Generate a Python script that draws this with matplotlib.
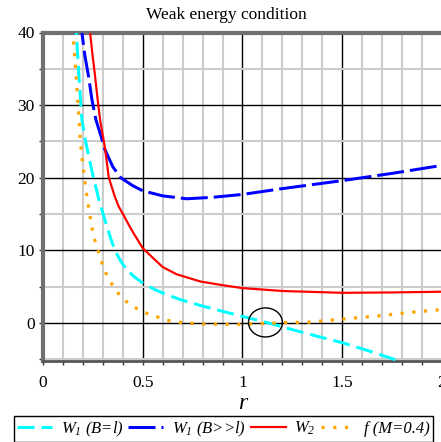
import matplotlib
matplotlib.use("Agg")
import matplotlib.pyplot as plt
from matplotlib.patches import Ellipse
from matplotlib.ticker import MultipleLocator

plt.rcParams['font.family'] = ['Liberation Serif', 'DejaVu Serif']
plt.rcParams['mathtext.fontset'] = 'custom'
plt.rcParams['mathtext.it'] = 'Liberation Serif:italic'
plt.rcParams['mathtext.rm'] = 'Liberation Serif:italic'
plt.rcParams['lines.scale_dashes'] = False

# ---- data ----
r_w1a = [0.163, 0.167, 0.18, 0.195, 0.21, 0.225, 0.24, 0.253, 0.28, 0.31, 0.335, 0.36, 0.39,
         0.42, 0.46, 0.5, 0.56, 0.62, 0.69, 0.79, 0.9, 1.0, 1.13, 1.3, 1.51, 1.65, 1.78]
v_w1a = [42, 40, 34, 28, 25.5, 23.5, 21.6, 20, 17, 14.2, 12.0, 10, 8.5,
         7.3, 6.3, 5.5, 4.6, 3.9, 3.2, 2.4, 1.6, 0.9, 0.0, -1.3, -2.8, -4.0, -5.2]

r_w1b = [0.19, 0.195, 0.21, 0.228, 0.245, 0.265, 0.29, 0.31, 0.35, 0.39, 0.45, 0.5, 0.6,
         0.72, 0.85, 1.0, 1.2, 1.5, 1.75, 2.0]
v_w1b = [42, 40, 36.8, 34, 30.8, 28, 25.8, 23.9, 21.5, 20, 18.9, 18.2, 17.5,
         17.1, 17.3, 17.7, 18.5, 19.6, 20.6, 21.7]

r_w2 = [0.232, 0.236, 0.248, 0.261, 0.273, 0.286, 0.31, 0.33, 0.36, 0.38, 0.403, 0.43,
        0.453, 0.5, 0.553, 0.6, 0.67, 0.73, 0.79, 0.9, 1.0, 1.2, 1.5, 1.75, 2.0]
v_w2 = [42, 40, 37, 34, 31, 28, 24.2, 20, 17.4, 16.0, 14.9, 13.5,
        12.4, 10.3, 8.9, 7.7, 6.7, 6.2, 5.7, 5.2, 4.8, 4.4, 4.15, 4.2, 4.3]

r_f = [0.147, 0.15, 0.16, 0.177, 0.187, 0.199, 0.214, 0.232, 0.252, 0.27, 0.287, 0.305,
       0.333, 0.365, 0.40, 0.45, 0.5, 0.56, 0.61, 0.68, 0.79, 0.97, 1.09, 1.21,
       1.33, 1.45, 1.57, 1.69, 1.86, 2.0]
v_f = [42, 40, 36.3, 29.5, 25.1, 21.9, 18.6, 15.3, 12.1, 10.5, 9.0, 7.4,
       5.9, 4.5, 3.3, 2.3, 1.5, 1.0, 0.4, 0.1, -0.15, -0.2, -0.1, 0.05,
       0.1, 0.4, 0.7, 1.0, 1.5, 1.85]

labels = [r'$W_1$ (B=l)', r'$W_1$ (B>>l)', r'$W_2$', 'f (M=0.4)']
title = 'Weak energy condition'

W, H = 441, 442
fig = plt.figure(figsize=(W / 100, H / 100), dpi=100)
ax = fig.add_axes([43 / W, 1 - 360.7 / H, (442 - 43) / W, (360.7 - 32.5) / H])

px = 0.72  # points per pixel
l1, = ax.plot(r_w1a, v_w1a, color='#00ffff', lw=3 * px, dashes=(17 * px, 7 * px),
              dash_capstyle='butt', zorder=5)
l2, = ax.plot(r_w1b, v_w1b, color='#0000ff', lw=3 * px, dashes=(27 * px, 6 * px),
              dash_capstyle='butt', zorder=5)
l3, = ax.plot(r_w2, v_w2, color='#ff0000', lw=2.2 * px, zorder=5)
l4, = ax.plot(r_f, v_f, color='#ffa500', lw=3.2 * px, dashes=(3.2 * px, 8.5 * px),
              dash_capstyle='butt', zorder=5)

ax.add_patch(Ellipse((1.115, 0.07), 0.17, 4.0, fill=False, edgecolor='black', lw=1.0, zorder=6))

ax.set_xlim(0, 2)
ax.set_ylim(-5.2, 40)
ax.xaxis.set_minor_locator(MultipleLocator(0.1))
ax.yaxis.set_minor_locator(MultipleLocator(5))
ax.set_xticks([0, 0.5, 1, 1.5, 2])
ax.set_xticklabels(['0', '0.5', '1', '1.5', '2'])
ax.set_yticks([0, 10, 20, 30, 40])
ax.set_yticklabels(['0', '10', '20', '30', '40'])

ax.grid(which='minor', color='#cccccc', lw=1.5, zorder=0)
ax.grid(which='major', color='black', lw=1.0, zorder=1)
ax.set_axisbelow(True)

ax.tick_params(which='major', direction='out', length=3, width=1, color='#333333',
               labelsize=12.5)
ax.tick_params(which='minor', direction='out', length=3, width=1, color='#333333')
ax.tick_params(axis='x', pad=7)
ax.tick_params(axis='y', pad=3)

for s in ['left', 'top']:
    ax.spines[s].set_color('#707070')
    ax.spines[s].set_linewidth(3)
ax.spines['bottom'].set_color('#555555')
ax.spines['bottom'].set_linewidth(2)
ax.spines['right'].set_visible(False)

ax.set_xlabel('r', fontsize=17, style='italic', labelpad=2)

fig.text(226 / W, 1 - 15 / H, title, ha='center', va='center', fontsize=12.5)

leg = fig.legend([l1, l2, l3, l4], labels, loc='center',
                 bbox_to_anchor=(223.5 / W, 1 - 429 / H), ncol=4,
                 prop={'family': 'Liberation Serif', 'style': 'italic', 'size': 12},
                 frameon=True, fancybox=False, edgecolor='black', framealpha=1,
                 handlelength=2.1, handletextpad=0.5, columnspacing=0.3,
                 borderpad=0.2, borderaxespad=0)
leg.get_frame().set_linewidth(1.0)

fig.savefig('out.png', dpi=100)
